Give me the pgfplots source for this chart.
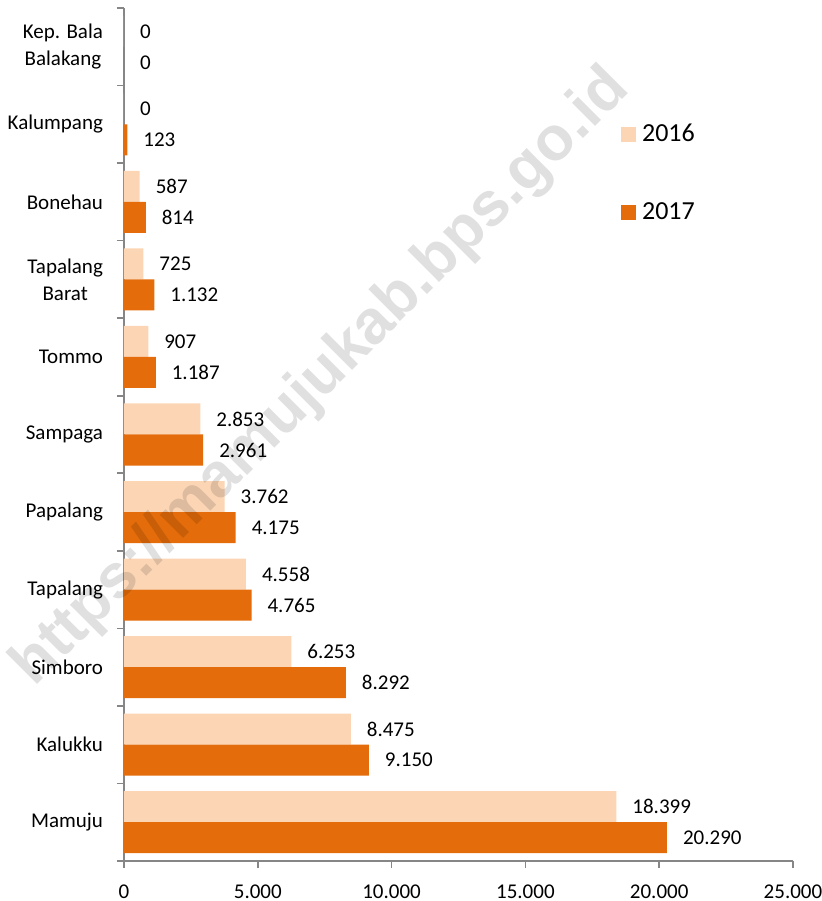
\documentclass[border=0pt]{standalone}
\usepackage{fontspec}
\setmainfont{Carlito}
\newfontfamily\wmfont{Liberation Sans}
\usepackage{pgfplots}
\pgfplotsset{compat=1.18}
\definecolor{c16}{HTML}{FCD5B5}
\definecolor{c17}{HTML}{E46C0A}
\definecolor{axgray}{HTML}{868686}
\begin{document}
\begin{tikzpicture}
\useasboundingbox (0,0) rectangle (411pt,450.5pt);
\begin{axis}[
  at={(62pt,20pt)}, anchor=south west,
  scale only axis, width=334.5pt, height=426.5pt,
  xmin=0, xmax=25000, ymin=-0.5, ymax=10.5,
  axis x line*=bottom, axis y line*=left,
  x axis line style={-, draw=axgray, line width=0.8pt},
  y axis line style={-, draw=axgray, line width=0.8pt},
  tick align=outside,
  major tick length=3.5pt, minor tick length=3.5pt,
  tick style={draw=axgray, line width=0.8pt},
  every major y tick/.append style={draw=none},
  xtick={0,5000,...,25000},
  scaled x ticks=false,
  /pgf/number format/assume math mode=true,
  xticklabel={\pgfmathprintnumber[fixed,precision=0,1000 sep={.}]{\tick}},
  xticklabel style={font=\fontsize{10.5}{12}\selectfont, yshift=-5pt},
  ytick={0,...,10},
  minor ytick={-0.5,0.5,...,10.5},
  yticklabels={Mamuju,Kalukku,Simboro,Tapalang,Papalang,Sampaga,Tommo,{Tapalang\\Barat},Bonehau,Kalumpang,{Kep. Bala\\Balakang}},
  yticklabel style={font=\fontsize{10.5}{13.5}\selectfont, align=center, xshift=-3.5pt},
  legend style={draw=none, fill=none, at={(rel axis cs:0.7425,0.8675)}, anchor=north west,
    font=\fontsize{13}{15}\selectfont, row sep=26pt, column sep=1.5pt, inner sep=0pt,
    nodes={inner sep=1.5pt}},
  legend cell align=left,
  legend image code/.code={\fill[#1] (0pt,-3.75pt) rectangle (7.5pt,3.75pt);},
  clip=false,
]
\addplot[xbar, bar width=0.4, bar shift=0.2, fill=c16, draw=none,
  nodes near coords={\pgfmathprintnumber[fixed,precision=0,1000 sep={.}]{\pgfplotspointmeta}},
  point meta=x,
  every node near coord/.append style={anchor=west, xshift=4.5pt, yshift=7.75pt, font=\fontsize{10.5}{12}\selectfont, text=black}]
  coordinates {(18399,0) (8475,1) (6253,2) (4558,3) (3762,4) (2853,5) (907,6) (725,7) (587,8) (0,9) (0,10)};
\addlegendentry{2016}
\addplot[xbar, bar width=0.4, bar shift=-0.2, fill=c17, draw=none,
  nodes near coords={\pgfmathprintnumber[fixed,precision=0,1000 sep={.}]{\pgfplotspointmeta}},
  point meta=x,
  every node near coord/.append style={anchor=west, xshift=4.5pt, yshift=-7.75pt, font=\fontsize{10.5}{12}\selectfont, text=black}]
  coordinates {(20290,0) (9150,1) (8292,2) (4765,3) (4175,4) (2961,5) (1187,6) (1132,7) (814,8) (123,9) (0,10)};
\addlegendentry{2017}
\end{axis}
\node[rotate=45, text=black, opacity=0.12, font=\wmfont\bfseries\fontsize{31}{31}\selectfont]
  at (161pt,261.5pt) {https://mamujukab.bps.go.id};
\end{tikzpicture}
\end{document}
